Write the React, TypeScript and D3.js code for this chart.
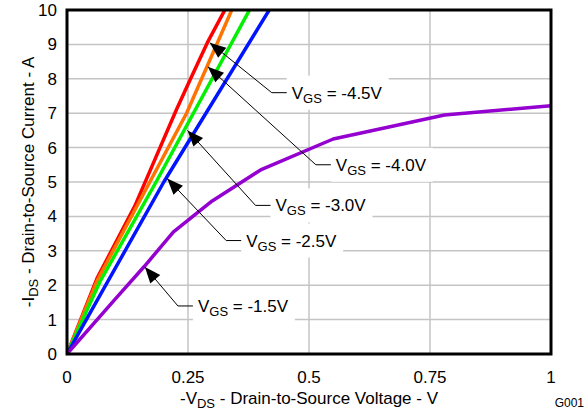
import React, { useEffect, useRef } from 'react';
import * as d3 from 'd3';

// -VDS (V) / -IDS (A), one array per gate voltage
const curveVgs45: [number, number][] = [
  [0, 0], [0.062, 2.2], [0.14, 4.3], [0.226, 7.1], [0.257, 8.05], [0.29, 9.05], [0.328, 10.05],
];
const curveVgs40: [number, number][] = [
  [0, 0], [0.063, 2.15], [0.247, 7.0], [0.342, 10.05],
];
const curveVgs30: [number, number][] = [
  [0, 0], [0.068, 2.1], [0.184, 5.0], [0.379, 10.05],
];
const curveVgs25: [number, number][] = [
  [0, 0], [0.08, 2.0], [0.2, 5.0], [0.42, 10.05],
];
const curveVgs15: [number, number][] = [
  [0, 0], [0.1, 1.6], [0.16, 2.55], [0.22, 3.55], [0.3, 4.45], [0.4, 5.35], [0.55, 6.25], [0.78, 6.95], [1.0, 7.22],
];

const seriesLabels = ['-4.5V', '-4.0V', '-3.0V', '-2.5V', '-1.5V'];
const seriesData = [curveVgs45, curveVgs40, curveVgs30, curveVgs25, curveVgs15];
// point on each curve the arrow touches
const arrowTargets: [number, number][] = [
  [0.295, 9.05], [0.291, 8.35], [0.249, 6.5], [0.207, 5.1], [0.161, 2.53],
];

const xTicks = [0, 0.25, 0.5, 0.75, 1];
const xTickLabels = ['0', '0.25', '0.5', '0.75', '1'];
const yTicks = [0, 1, 2, 3, 4, 5, 6, 7, 8, 9, 10];

const colors = ['#ff0000', '#ff7300', '#00f000', '#0014ff', '#9400d0'];
// elbow offset from arrow tip (px)
const elbows: [number, number][] = [
  [62, 50], [108, 98], [68, 75], [59, 62], [33, 39],
];

const W = 586;
const H = 417;
const margin = { left: 67, right: 35, top: 10, bottom: 63 };
const FONT = "'Liberation Sans', Arial, sans-serif";

export default function App() {
  const ref = useRef<SVGSVGElement>(null);

  useEffect(() => {
    const svg = d3.select(ref.current);
    svg.selectAll('*').remove();

    const x = d3.scaleLinear().domain([0, 1]).range([margin.left, W - margin.right]);
    const y = d3.scaleLinear().domain([0, 10]).range([H - margin.bottom, margin.top]);

    svg.append('clipPath').attr('id', 'plot')
      .append('rect')
      .attr('x', x(0)).attr('y', y(10))
      .attr('width', x(1) - x(0)).attr('height', y(0) - y(10));

    // grid
    const grid = svg.append('g').attr('stroke', '#c4c4c4').attr('stroke-width', 1.5);
    xTicks.forEach((t) => {
      grid.append('line').attr('x1', x(t)).attr('x2', x(t)).attr('y1', y(0)).attr('y2', y(10));
    });
    yTicks.forEach((t) => {
      grid.append('line').attr('x1', x(0)).attr('x2', x(1)).attr('y1', y(t)).attr('y2', y(t));
    });

    // label geometry
    const labels = seriesLabels.map((lab, i) => {
      const tx = x(arrowTargets[i][0]);
      const ty = y(arrowTargets[i][1]);
      const ex = tx + elbows[i][0];
      const ey = ty + elbows[i][1];
      return { lab, tx, ty, ex, ey, hx: ex + 15, textX: ex + 20 };
    });

    // white boxes behind labels
    labels.forEach((l) => {
      svg.append('rect')
        .attr('x', l.hx).attr('y', l.ey - 17)
        .attr('width', 102).attr('height', 34)
        .attr('fill', '#fff');
    });

    const line = d3.line<[number, number]>().x((d) => x(d[0])).y((d) => y(d[1]));
    const curves = svg.append('g').attr('clip-path', 'url(#plot)');
    seriesData.forEach((data, i) => {
      curves.append('path')
        .attr('d', line(data))
        .attr('fill', 'none')
        .attr('stroke', colors[i])
        .attr('stroke-width', 3.5)
        .attr('stroke-linejoin', 'round');
    });

    // leaders, arrowheads and text
    labels.forEach((l) => {
      svg.append('polyline')
        .attr('points', `${l.tx},${l.ty} ${l.ex},${l.ey} ${l.hx},${l.ey}`)
        .attr('fill', 'none').attr('stroke', '#000').attr('stroke-width', 1);
      const ang = Math.atan2(l.ey - l.ty, l.ex - l.tx);
      const len = 16;
      const hw = 6.5;
      const bx = l.tx + len * Math.cos(ang);
      const by = l.ty + len * Math.sin(ang);
      const px = -Math.sin(ang) * hw;
      const py = Math.cos(ang) * hw;
      svg.append('polygon')
        .attr('points', `${l.tx},${l.ty} ${bx + px},${by + py} ${bx - px},${by - py}`)
        .attr('fill', '#000');
      const t = svg.append('text')
        .attr('x', l.textX).attr('y', l.ey + 6)
        .attr('font-family', FONT).attr('font-size', 17).attr('fill', '#000');
      t.append('tspan').text('V');
      t.append('tspan').attr('font-size', 13).attr('dy', 4).text('GS');
      t.append('tspan').attr('dy', -4).text(` = ${l.lab}`);
    });

    // border
    svg.append('rect')
      .attr('x', x(0)).attr('y', y(10))
      .attr('width', x(1) - x(0)).attr('height', y(0) - y(10))
      .attr('fill', 'none').attr('stroke', '#000').attr('stroke-width', 3);

    // tick labels
    xTicks.forEach((t, i) => {
      svg.append('text')
        .attr('x', x(t)).attr('y', y(0) + 29)
        .attr('text-anchor', 'middle')
        .attr('font-family', FONT).attr('font-size', 17)
        .text(xTickLabels[i]);
    });
    yTicks.forEach((t) => {
      svg.append('text')
        .attr('x', x(0) - 10).attr('y', y(t) + 6)
        .attr('text-anchor', 'end')
        .attr('font-family', FONT).attr('font-size', 17)
        .text(String(t));
    });

    // axis titles
    const xt = svg.append('text')
      .attr('x', (x(0) + x(1)) / 2).attr('y', y(0) + 50)
      .attr('text-anchor', 'middle')
      .attr('font-family', FONT).attr('font-size', 17);
    xt.append('tspan').text('-V');
    xt.append('tspan').attr('font-size', 13).attr('dy', 4).text('DS');
    xt.append('tspan').attr('dy', -4).text(' - Drain-to-Source Voltage - V');

    const yt = svg.append('text')
      .attr('transform', `translate(34,${(y(0) + y(10)) / 2}) rotate(-90)`)
      .attr('text-anchor', 'middle')
      .attr('font-family', FONT).attr('font-size', 17);
    yt.append('tspan').text('-I');
    yt.append('tspan').attr('font-size', 13).attr('dy', 4).text('DS');
    yt.append('tspan').attr('dy', -4).text(' - Drain-to-Source Current - A');

    svg.append('text')
      .attr('x', W - 2).attr('y', H - 10)
      .attr('text-anchor', 'end')
      .attr('font-family', FONT).attr('font-size', 12)
      .text('G001');
  }, []);

  return (
    <div style={{ position: 'absolute', left: 0, top: 0 }}>
      <svg ref={ref} width={W} height={H} style={{ display: 'block', background: '#fff' }} />
    </div>
  );
}
